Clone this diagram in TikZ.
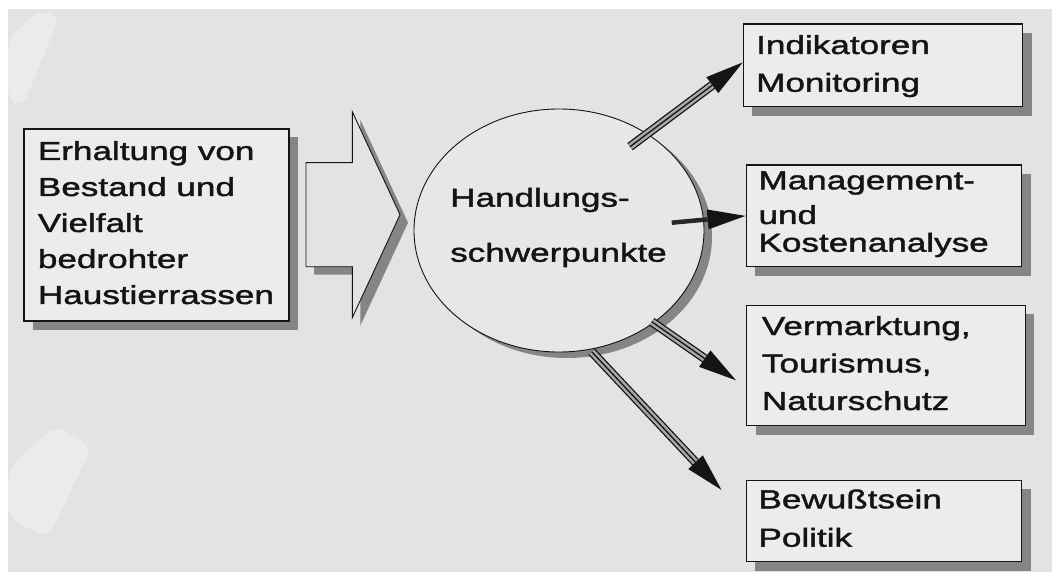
\documentclass[tikz,border=0pt]{standalone}
\usepackage{fontspec}
\usetikzlibrary{shapes.geometric,shadows,calc}

% wide, heavy grotesque face used for all labels
\newfontfamily\diagfont[FakeStretch=1.35,FakeBold=1.6]{Liberation Sans}

% left-aligned block of lines; the block's baseline is that of its first line
\newcommand\linestack[2]{\vtop{\baselineskip=#1\relax\lineskiplimit=-\maxdimen\lineskip=0pt
  \halign{##\hfil\cr#2\crcr}}}

\definecolor{paper}{gray}{0.89}
\definecolor{boxfill}{gray}{0.925}
\definecolor{hubfill}{gray}{0.905}
\definecolor{shadowgray}{gray}{0.52}
\definecolor{stripe}{gray}{0.66}
\definecolor{ink}{gray}{0.08}

\tikzset{
  box/.style={draw=ink, line width=1.1pt, fill=boxfill, inner sep=0pt,
    general shadow={fill=shadowgray, shadow xshift=9pt, shadow yshift=-9pt}},
  hub/.style={ellipse, draw=ink, line width=0.9pt, fill=hubfill, inner sep=0pt,
    minimum width=290pt, minimum height=243pt,
    general shadow={fill=shadowgray, shadow xshift=8pt, shadow yshift=-6pt}},
  txt/.style={inner sep=0pt, anchor=base west, text=ink,
    font=\diagfont\fontsize{26}{34}\selectfont},
  stripes/.style={line width=9pt, draw=ink, line cap=butt,
    postaction={draw=stripe, line width=6.4pt, line cap=butt},
    postaction={draw=ink, line width=1.3pt, line cap=butt}},
  solidshaft/.style={line width=4.5pt, draw=ink!92, line cap=butt},
  head/.style={fill=ink},
}

\begin{document}
\begin{tikzpicture}[x=1pt,y=-1pt]
\useasboundingbox (0,0) rectangle (1052,572);

% sheet and its grey ground
\fill[white] (0,0) rectangle (1052,572);
\fill[paper] (8,9) rectangle (1052,572);
\fill[white, opacity=0.3, rounded corners=12pt] (38,10) -- (60,16) -- (22,108) -- (8,100) -- (8,40) -- cycle;
\fill[white, opacity=0.3, rounded corners=12pt] (55,425) -- (92,447) -- (48,538) -- (8,518) -- (8,470) -- cycle;

% source box
\node[box, general shadow={fill=shadowgray, shadow xshift=9pt, shadow yshift=-8pt},
  minimum width=265pt, minimum height=192pt] (src) at (156.5,225) {};
\node[txt] (srctext) at (37.7,160)
  {\linestack{36pt}{Erhaltung von\cr Bestand und\cr Vielfalt\cr bedrohter\cr Haustierrassen}};

% hollow block arrow: shadow (offset copy) under the outlined shape
\path[fill=shadowgray] (314,170.7) -- (360.3,170.7) -- (360.3,119.7) -- (408,222.7)
  -- (360.3,325.7) -- (360.3,274.7) -- (314,274.7) -- cycle;
\path[fill=paper, draw=ink, line width=0.9pt, line join=miter]
  (306,162.7) -- (352.3,162.7) -- (352.3,111.7) -- (400,214.7)
  -- (352.3,317.7) -- (352.3,266.7) -- (306,266.7) -- cycle;

% central ellipse
\node[hub] (hub) at (559,230.5) {};
\node[txt] (hubtext) at (450,206.7) {\linestack{55pt}{Handlungs-\cr schwerpunkte}};

% target boxes
\node[box, minimum width=279.4pt, minimum height=82.7pt] (b1) at (883,65.4) {};
\node[txt] (b1text) at (756,54) {\linestack{37.7pt}{Indikatoren\cr Monitoring}};

\node[box, minimum width=275.7pt, minimum height=101.7pt] (b2) at (883.9,215.9) {};
\node[txt] (b2text) at (758.3,189.3)
  {\linestack{34.7pt}{Management-\cr und\cr\noalign{\kern-7pt}Kostenanalyse}};

\node[box, minimum width=278.8pt, minimum height=120.5pt] (b3) at (885.9,365.3) {};
\node[txt] (b3text) at (761.7,335) {\linestack{37.5pt}{Vermarktung,\cr Tourismus,\cr Naturschutz}};

\node[box, minimum width=275.7pt, minimum height=81.7pt] (b4) at (883.9,520.9) {};
\node[txt] (b4text) at (758.3,508.3) {\linestack{38.4pt}{Bewußtsein\cr Politik}};

% connector ends: tails on the ellipse, tips at the boxes
\coordinate (t1) at ([shift={(71pt,83.8pt)}]hub.center);
\coordinate (t2) at ([shift={(112.7pt,7.8pt)}]hub.center);
\coordinate (t3) at ([shift={(92.7pt,-91.2pt)}]hub.center);
\coordinate (t4) at ([shift={(32.7pt,-121.2pt)}]hub.center);
\coordinate (p1) at ([yshift=3pt]b1.west);
\coordinate (p2) at (b2.west);
\coordinate (p3) at ([shift={(-10pt,-15pt)}]b3.west);
\coordinate (p4) at ([shift={(-24pt,31pt)}]b4.west);

% arrows: shaft up to the head base, then a filled head
\foreach \i in {1,2,3,4} {
  \coordinate (h\i) at ($(p\i)!38pt!(t\i)$);
}
\draw[stripes] (t1) -- (h1);
\draw[solidshaft] (t2) -- (h2);
\draw[stripes] (t3) -- (h3);
\draw[stripes] (t4) -- (h4);
\foreach \i in {1,2,3,4} {
  \fill[head] (p\i) -- ($(h\i)!10pt!90:(p\i)$) -- ($(h\i)!10pt!-90:(p\i)$) -- cycle;
}
\end{tikzpicture}
\end{document}
